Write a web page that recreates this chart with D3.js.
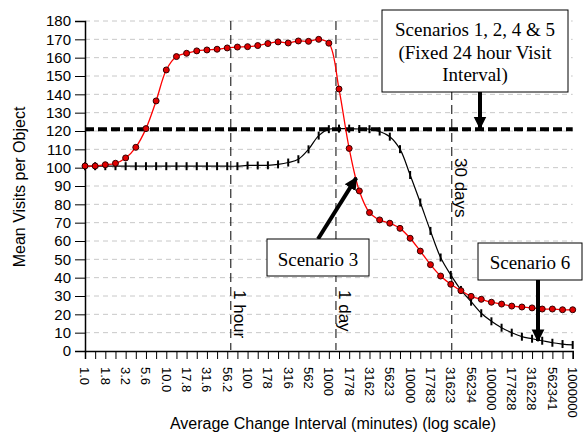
<!DOCTYPE html>
<html>
<head>
<meta charset="utf-8">
<script src="https://cdn.jsdelivr.net/npm/d3@7"></script>
<style>
  body { margin: 0; background: #fff; }
  svg { display: block; font-family: Arial, "Liberation Sans", sans-serif; }
</style>
</head>
<body>
<div id="chart"></div>
<script>
// tick labels along the x axis (one every other point)
var tickLabels = ["1.0","1.8","3.2","5.6","10.0","17.8","31.6","56.2","100","178","316","562","1000",
  "1778","3162","5623","10000","17783","31623","56234","100000","177828","316228","562341","1000000"]

// series values, one per point (49 points, 1/8 decade apart)
var scenario3 = [100.9,100.9,101.6,102.4,105.3,111.1,121.3,136.4,153.3,160.6,162.4,163.7,
  164.2,164.6,165.3,165.8,166.0,166.6,167.7,168.6,168.0,169.1,168.9,170.0,167.9,
  142.9,110.5,87.3,75.5,71.5,69.7,66.9,61.5,54.5,47.1,
  40.9,36.4,32.9,29.8,28.2,26.6,25.6,24.5,24.0,23.5,22.9,22.9,22.5,22.5]
var scenario6 = [100.8,100.8,100.8,100.8,100.8,100.8,100.8,100.8,100.8,100.8,100.8,100.8,
  100.8,100.8,100.8,100.8,101.2,101.2,101.3,101.8,102.8,104.6,110.0,117.5,121.0,
  121.3,121.3,121.1,121.0,119.7,116.9,110.1,96.0,81.0,65.5,
  51.0,41.5,33.3,26.9,20.6,16.2,12.7,10.0,7.8,6.7,5.6,4.5,3.8,3.3]
var fixedVisits = 121

// reference lines (position in point index units)
var refLines = [
  { label: "1 hour", at: 14.35, textTop: 290 },
  { label: "1 day", at: 24.7, textTop: 290 },
  { label: "30 days", at: 36.1, textTop: 158 }
]

var width = 583
var height = 439
var margin = { left: 85, right: 10, top: 21, bottom: 88 }

var svg = d3.select("#chart")
    .append("svg")
    .attr("width", width)
    .attr("height", height)

var nPts = scenario3.length
var x = d3.scaleLinear().domain([0, nPts - 1]).range([margin.left, 572.7])
var y = d3.scaleLinear().domain([0, 180]).range([351, margin.top])

// gridlines
svg.append("g")
    .selectAll("line")
    .data(d3.range(10, 190, 10))
    .enter()
    .append("line")
    .attr("x1", x(0))
    .attr("x2", x(nPts - 1))
    .attr("y1", d => y(d))
    .attr("y2", d => y(d))
    .attr("stroke", "#c8c8c8")
    .attr("stroke-dasharray", "5,4")

// y axis
var yAxis = svg.append("g")
    .attr("transform", "translate(" + margin.left + ",0)")
    .call(d3.axisLeft(y).tickValues(d3.range(0, 190, 10)).tickSize(10).tickPadding(4))
yAxis.select(".domain").attr("stroke", "#000").attr("stroke-width", 1.5)
yAxis.selectAll(".tick line").attr("stroke", "#000")
yAxis.selectAll("text").attr("font-size", 15).attr("fill", "#000").style("font-family", "Arial, 'Liberation Sans', sans-serif")

// x axis: ticks at every point, labels at every other one
var xAxis = svg.append("g")
    .attr("transform", "translate(0,351)")
    .call(d3.axisBottom(x).tickValues(d3.range(0, nPts)).tickSize(8).tickFormat(""))
xAxis.select(".domain").attr("stroke", "#000").attr("stroke-width", 1.5)
xAxis.selectAll(".tick line").attr("stroke", "#000")

svg.append("g")
    .selectAll("text")
    .data(tickLabels)
    .enter()
    .append("text")
    .attr("transform", (d, i) => "translate(" + x(i * 2) + ",367) rotate(90)")
    .attr("dy", "0.35em")
    .attr("font-size", 13)
    .text(d => d)

// reference lines
var ref = svg.append("g")
ref.selectAll("line")
    .data(refLines)
    .enter()
    .append("line")
    .attr("x1", d => x(d.at))
    .attr("x2", d => x(d.at))
    .attr("y1", y(180))
    .attr("y2", y(0) - 1)
    .attr("stroke", "#000")
    .attr("stroke-dasharray", "9,5")
ref.selectAll("text")
    .data(refLines)
    .enter()
    .append("text")
    .attr("transform", d => "translate(" + (x(d.at) + 3) + "," + d.textTop + ") rotate(90)")
    .attr("font-size", 17)
    .text(d => d.label)

// fixed 24h visit interval line
svg.append("line")
    .attr("x1", x(0))
    .attr("x2", x(nPts - 1))
    .attr("y1", y(fixedVisits))
    .attr("y2", y(fixedVisits))
    .attr("stroke", "#000")
    .attr("stroke-width", 4)
    .attr("stroke-dasharray", "9,4")

var line = d3.line()
    .x((d, i) => x(i))
    .y(d => y(d))
    .curve(d3.curveCatmullRom)

// scenario 6
svg.append("path")
    .datum(scenario6)
    .attr("d", line)
    .attr("fill", "none")
    .attr("stroke", "#000")
    .attr("stroke-width", 1.2)
svg.append("g")
    .selectAll("line")
    .data(scenario6)
    .enter()
    .append("line")
    .attr("x1", (d, i) => x(i))
    .attr("x2", (d, i) => x(i))
    .attr("y1", d => y(d) - 4)
    .attr("y2", d => y(d) + 4)
    .attr("stroke", "#000")
    .attr("stroke-width", 2)

// scenario 3
svg.append("path")
    .datum(scenario3)
    .attr("d", line)
    .attr("fill", "none")
    .attr("stroke", "#ff0000")
    .attr("stroke-width", 1.3)
svg.append("g")
    .selectAll("circle")
    .data(scenario3)
    .enter()
    .append("circle")
    .attr("cx", (d, i) => x(i))
    .attr("cy", d => y(d))
    .attr("r", 3)
    .attr("fill", "#e00000")
    .attr("stroke", "#300")
    .attr("stroke-width", 1)

// callout boxes with arrows
svg.append("defs").append("marker")
    .attr("id", "head")
    .attr("viewBox", "0 0 10 10")
    .attr("refX", 9)
    .attr("refY", 5)
    .attr("markerWidth", 3.2)
    .attr("markerHeight", 3.6)
    .attr("markerUnits", "strokeWidth")
    .attr("orient", "auto")
    .append("path")
    .attr("d", "M0,0 L10,5 L0,10 z")
    .attr("fill", "#000")

function callout(box, lines, baselines, from, to) {
    var g = svg.append("g")
    g.append("line")
        .attr("x1", from[0]).attr("y1", from[1])
        .attr("x2", to[0]).attr("y2", to[1])
        .attr("stroke", "#000")
        .attr("stroke-width", 4)
        .attr("marker-end", "url(#head)")
    g.append("rect")
        .attr("x", box[0]).attr("y", box[1])
        .attr("width", box[2]).attr("height", box[3])
        .attr("fill", "#fff")
        .attr("stroke", "#000")
    g.selectAll("text")
        .data(lines)
        .enter()
        .append("text")
        .attr("x", box[0] + box[2] / 2)
        .attr("y", (d, i) => baselines[i])
        .attr("text-anchor", "middle")
        .attr("font-size", 19)
        .style("font-family", "'Liberation Serif', 'Times New Roman', serif")
        .text(d => d)
}

callout([382, 10, 186, 82], ["Scenarios 1, 2, 4 & 5", "(Fixed 24 hour Visit", "Interval)"],
    [36, 58.5, 80.5], [480, 92], [480, y(fixedVisits) - 1])
callout([267, 239, 102, 37], ["Scenario 3"], [266], [318, 239], [x(26.7), y(94.4)])
callout([478, 243, 104, 37], ["Scenario 6"], [269], [538, 280], [538, 341])

// axis titles
svg.append("text")
    .attr("transform", "translate(25,187) rotate(-90)")
    .attr("text-anchor", "middle")
    .attr("font-size", 16)
    .text("Mean Visits per Object")

svg.append("text")
    .attr("x", 333)
    .attr("y", 429)
    .attr("text-anchor", "middle")
    .attr("font-size", 16)
    .text("Average Change Interval (minutes) (log scale)")
</script>
</body>
</html>
